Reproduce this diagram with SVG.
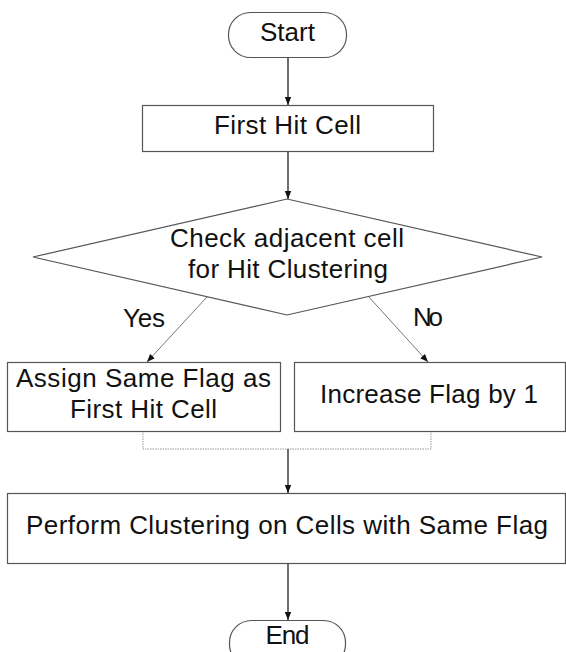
<svg xmlns="http://www.w3.org/2000/svg" width="566" height="652" viewBox="0 0 566 652">
  <defs>
    <marker id="arrow" viewBox="0 0 8 8" refX="8" refY="4" markerWidth="8" markerHeight="8" markerUnits="userSpaceOnUse" orient="auto">
      <path d="M0,0.8 L8,4 L0,7.2 Z" fill="#111"/>
    </marker>
    <style>
      .shape { fill: #fff; stroke: #555; stroke-width: 1.2; }
      .label { font-family: "Liberation Sans", Arial, sans-serif; font-size: 26px; fill: #111; text-anchor: middle; }
      .flow { fill: none; stroke: #222; stroke-width: 1.3; }
      .branch { fill: none; stroke: #666; stroke-width: 0.9; }
      .merge { fill: none; stroke: #999; stroke-width: 1; stroke-dasharray: 1.5 1; }
    </style>
  </defs>
  <rect width="566" height="652" fill="#fff"/>

  <!-- connectors -->
  <g id="connectors">
    <line class="flow" x1="288" y1="57" x2="288" y2="105" marker-end="url(#arrow)"/>
    <line class="flow" x1="288" y1="151" x2="288" y2="199" marker-end="url(#arrow)"/>
    <line class="branch" x1="207" y1="297" x2="147" y2="362" marker-end="url(#arrow)"/>
    <line class="branch" x1="368" y1="296" x2="428" y2="362" marker-end="url(#arrow)"/>
    <path class="merge" d="M143,431 V449 H431 V431"/>
    <line class="flow" x1="288" y1="449" x2="288" y2="493" marker-end="url(#arrow)"/>
    <line class="flow" x1="288" y1="563" x2="288" y2="620" marker-end="url(#arrow)"/>
    <text class="label" x="144" y="327" textLength="42">Yes</text>
    <text class="label" x="428" y="326" textLength="30">No</text>
  </g>

  <g id="start">
    <rect class="shape" x="228.5" y="12.5" width="118" height="45" rx="22" ry="22"/>
    <text class="label" x="287.5" y="41" textLength="55">Start</text>
  </g>

  <g id="first-hit-cell">
    <rect class="shape" x="142.5" y="105.5" width="291" height="46"/>
    <text class="label" x="287.5" y="134" textLength="147">First Hit Cell</text>
  </g>

  <g id="check-adjacent">
    <polygon class="shape" points="287,199 542,257 287,315 33,257"/>
    <text class="label" x="287" y="247" textLength="234">Check adjacent cell</text>
    <text class="label" x="288" y="278" textLength="200">for Hit Clustering</text>
  </g>

  <g id="assign-same-flag">
    <rect class="shape" x="7.5" y="362.5" width="273" height="69"/>
    <text class="label" x="143.5" y="387" textLength="255">Assign Same Flag as</text>
    <text class="label" x="143.5" y="418" textLength="147">First Hit Cell</text>
  </g>

  <g id="increase-flag">
    <rect class="shape" x="294.5" y="362.5" width="271" height="69"/>
    <text class="label" x="429" y="403" textLength="218">Increase Flag by 1</text>
  </g>

  <g id="perform-clustering">
    <rect class="shape" x="7.5" y="493.5" width="558" height="70"/>
    <text class="label" x="287" y="534" textLength="522">Perform Clustering on Cells with Same Flag</text>
  </g>

  <g id="end">
    <rect class="shape" x="229.5" y="620.5" width="116" height="46" rx="22" ry="22"/>
    <text class="label" x="287.5" y="644" textLength="44">End</text>
  </g>
</svg>
